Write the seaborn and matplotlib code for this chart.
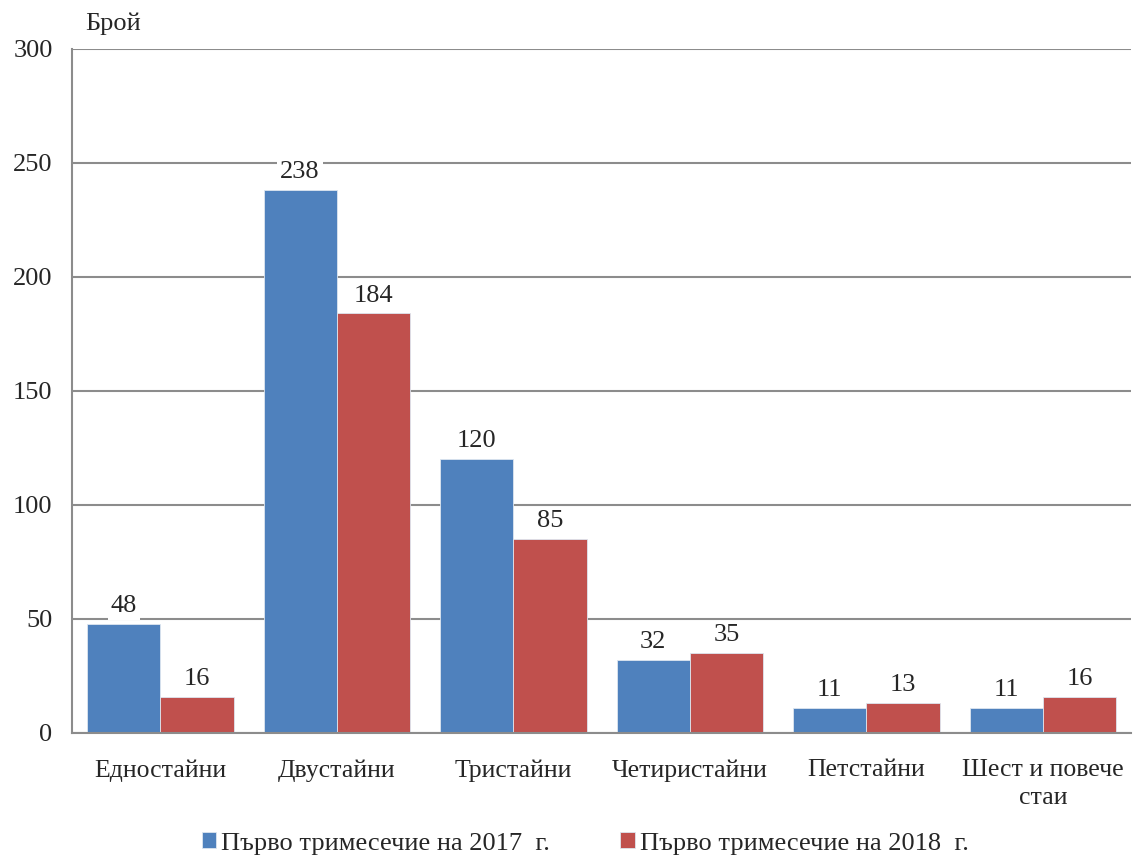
import pandas as pd
import matplotlib
matplotlib.use('Agg')
import matplotlib.pyplot as plt
import seaborn as sns

# data
categories = ['Едностайни', 'Двустайни', 'Тристайни', 'Четиристайни', 'Петстайни', 'Шест и повече\nстаи']
values_2017 = [48, 238, 120, 32, 11, 11]
values_2018 = [16, 184, 85, 35, 13, 16]
series = ['Първо тримесечие на 2017  г.', 'Първо тримесечие на 2018  г.']

df = pd.DataFrame({
    'cat': categories * 2,
    'val': values_2017 + values_2018,
    'period': [series[0]] * len(categories) + [series[1]] * len(categories),
})

sns.set_style('white')
plt.rcParams['font.family'] = ['Liberation Serif', 'DejaVu Serif']
fs = 19

fig = plt.figure(figsize=(11.34, 8.56), dpi=100)
ax = fig.add_axes([0.0635, 0.1437, 0.934, 0.7991])

sns.barplot(data=df, x='cat', y='val', hue='period', palette=['#4F81BD', '#C0504D'],
            width=0.83, edgecolor='#dde6f0', linewidth=0.6, saturation=1, ax=ax, zorder=2)

ax.set_ylim(0, 300)
ax.set_xlim(-0.5, len(categories) - 0.5)
ax.set_yticks(range(0, 301, 50))
ax.yaxis.grid(True, color='#8c8c8c', linewidth=1.5, zorder=0)
ax.set_axisbelow(True)
ax.set_xlabel('')
ax.set_ylabel('')

# x ticks between categories, labels at centres
ax.set_xticks([i + 0.5 for i in range(-1, len(categories))], minor=False)
ax.set_xticklabels([])
ax.set_xticks(range(len(categories)), minor=True)
ax.set_xticklabels(categories, minor=True, fontsize=fs - 0.5, linespacing=1.35)
ax.tick_params(axis='x', which='major', length=8, width=1.5, color='#8c8c8c', direction='out')
ax.tick_params(axis='x', which='minor', length=0, pad=19)
ax.tick_params(axis='y', length=8, width=1.5, color='#8c8c8c', direction='out', labelsize=fs, pad=6)

for s in ['top', 'right']:
    ax.spines[s].set_visible(False)
for s in ['left', 'bottom']:
    ax.spines[s].set_color('#8c8c8c')
    ax.spines[s].set_linewidth(1.5)

for cont in ax.containers:
    ax.bar_label(cont, padding=5, fontsize=fs,
                 bbox=dict(facecolor='white', edgecolor='none', pad=2))

fig.text(0.075, 1 - 24 / 856, 'Брой', fontsize=fs, ha='left', va='center')

handles, labels = ax.get_legend_handles_labels()
ax.get_legend().remove()
fig.legend(handles, labels, loc='lower center', bbox_to_anchor=(0.516, -0.026), ncol=2,
           frameon=False, fontsize=fs, handlelength=0.55, handleheight=0.55,
           handletextpad=0.2, columnspacing=2.65)

fig.savefig('out.png', dpi=100)
